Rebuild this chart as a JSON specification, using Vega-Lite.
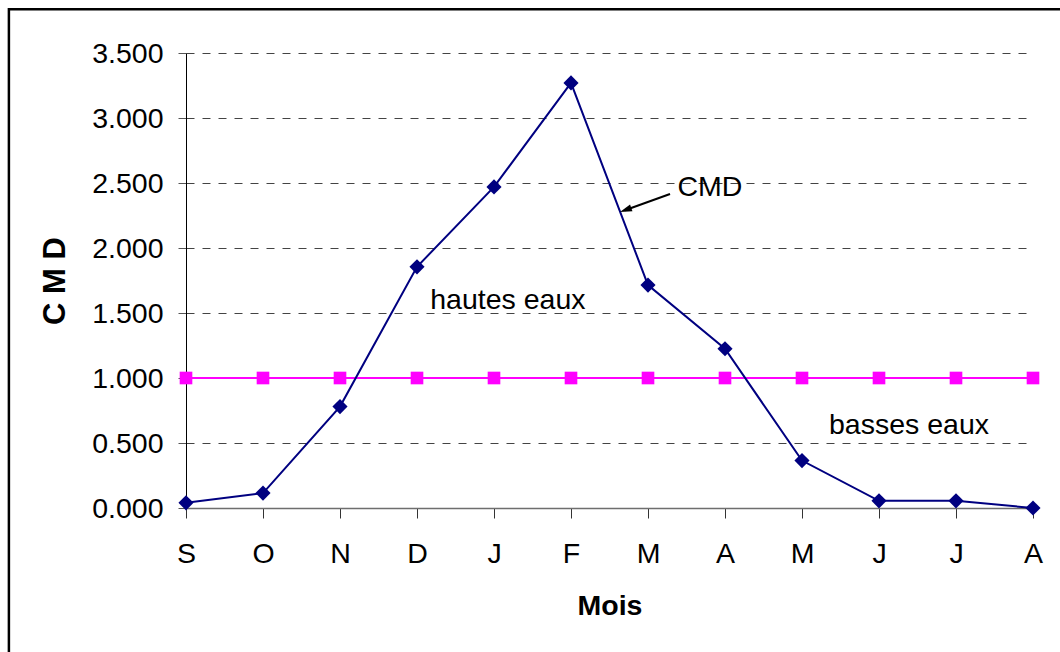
{
  "$schema": "https://vega.github.io/schema/vega-lite/v6.json",
  "autosize": {"type": "none"},
  "width": 847,
  "height": 455,
  "padding": {"left": 186, "top": 53, "right": 27, "bottom": 144},
  "background": "white",
  "config": {
    "view": {"stroke": null},
    "font": "Liberation Sans",
    "axis": {"labelFont": "Liberation Sans", "titleFont": "Liberation Sans"}
  },
  "data": {
    "values": [
      {"i": 0, "mois": "S", "cmd": 0.04, "ref": 1},
      {"i": 1, "mois": "O", "cmd": 0.115, "ref": 1},
      {"i": 2, "mois": "N", "cmd": 0.78, "ref": 1},
      {"i": 3, "mois": "D", "cmd": 1.855, "ref": 1},
      {"i": 4, "mois": "J", "cmd": 2.47, "ref": 1},
      {"i": 5, "mois": "F", "cmd": 3.27, "ref": 1},
      {"i": 6, "mois": "M", "cmd": 1.715, "ref": 1},
      {"i": 7, "mois": "A", "cmd": 1.225, "ref": 1},
      {"i": 8, "mois": "M", "cmd": 0.365, "ref": 1},
      {"i": 9, "mois": "J", "cmd": 0.055, "ref": 1},
      {"i": 10, "mois": "J", "cmd": 0.055, "ref": 1},
      {"i": 11, "mois": "A", "cmd": 0.0, "ref": 1}
    ]
  },
  "encoding": {
    "x": {
      "field": "i", "type": "quantitative",
      "scale": {"domain": [0, 11], "nice": false, "zero": false},
      "axis": {
        "title": "Mois",
        "values": [0,1,2,3,4,5,6,7,8,9,10,11],
        "labelExpr": "['S','O','N','D','J','F','M','A','M','J','J','A'][datum.value]",
        "grid": false,
        "domainColor": "#6e6e6e", "domainWidth": 1.5,
        "tickColor": "#333333", "tickSize": 10, "tickWidth": 1,
        "labelFontSize": 28.5, "labelColor": "black", "labelPadding": 21,
        "labelFlush": false, "labelOverlap": false,
        "titleFontSize": 28.5, "titleFontWeight": "bold", "titleColor": "black",
        "titlePadding": 24
      }
    },
    "y": {
      "field": "cmd", "type": "quantitative",
      "scale": {"domain": [0, 3.5], "nice": false},
      "axis": {
        "title": "C M D",
        "values": [0, 0.5, 1, 1.5, 2, 2.5, 3, 3.5],
        "format": ".3f",
        "grid": true, "gridDash": [8, 8], "gridColor": "#444444", "gridWidth": 1,
        "domainColor": "black", "domainWidth": 1,
        "tickColor": "#555555", "tickSize": 8,
        "labelFontSize": 28.5, "labelColor": "black", "labelPadding": 15,
        "labelFlush": false, "labelOverlap": false,
        "titleFontSize": 31, "titleFontWeight": "bold", "titleColor": "black",
        "titlePadding": 20
      }
    }
  },
  "layer": [
    {
      "transform": [{"filter": {"field": "i", "equal": 0}}],
      "mark": {"type": "rect", "fill": null, "stroke": "black", "strokeWidth": 2.5},
      "encoding": {
        "x": {"datum": -2.3},
        "x2": {"datum": 11.6},
        "y": {"datum": 3.836},
        "y2": {"datum": -1.3}
      }
    },
    {
      "mark": {"type": "line", "color": "#ff00ff", "strokeWidth": 2},
      "encoding": {"y": {"field": "ref", "type": "quantitative"}}
    },
    {
      "mark": {"type": "point", "shape": "square", "filled": true, "color": "#ff00ff", "size": 160, "opacity": 1},
      "encoding": {"y": {"field": "ref", "type": "quantitative"}}
    },
    {
      "mark": {"type": "line", "color": "#000080", "strokeWidth": 2}
    },
    {
      "mark": {"type": "point", "shape": "diamond", "filled": true, "color": "#000080", "size": 230, "opacity": 1}
    },
    {
      "transform": [{"filter": {"field": "i", "equal": 0}}],
      "mark": {"type": "text", "fontSize": 28.5, "align": "center", "baseline": "alphabetic", "color": "black"},
      "encoding": {"x": {"datum": 4.18}, "y": {"datum": 1.53}, "text": {"value": "hautes eaux"}}
    },
    {
      "transform": [{"filter": {"field": "i", "equal": 0}}],
      "mark": {"type": "text", "fontSize": 28.5, "align": "center", "baseline": "alphabetic", "color": "black"},
      "encoding": {"x": {"datum": 6.805}, "y": {"datum": 2.4}, "text": {"value": "CMD"}}
    },
    {
      "transform": [{"filter": {"field": "i", "equal": 0}}],
      "mark": {"type": "text", "fontSize": 28.5, "align": "center", "baseline": "alphabetic", "color": "black"},
      "encoding": {"x": {"datum": 9.39}, "y": {"datum": 0.569}, "text": {"value": "basses eaux"}}
    },
    {
      "transform": [{"filter": {"field": "i", "equal": 0}}],
      "mark": {"type": "rule", "color": "black", "strokeWidth": 2},
      "encoding": {
        "x": {"datum": 6.286}, "y": {"datum": 2.415},
        "x2": {"datum": 5.70}, "y2": {"datum": 2.29}
      }
    },
    {
      "transform": [{"filter": {"field": "i", "equal": 0}}],
      "mark": {"type": "point", "shape": "M0,0L0.7,2.4L-0.7,2.4Z", "filled": true, "color": "black", "size": 100, "opacity": 1, "angle": 250},
      "encoding": {"x": {"datum": 5.636}, "y": {"datum": 2.277}}
    }
  ]
}
